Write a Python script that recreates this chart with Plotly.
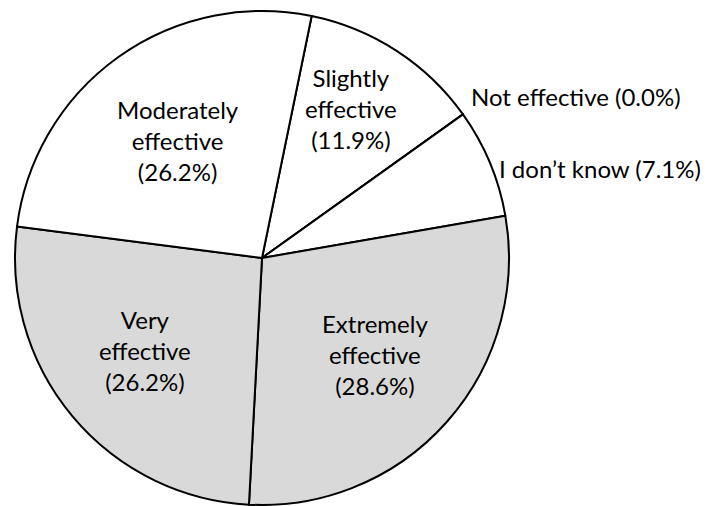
import plotly.graph_objects as go

# Survey responses: perceived effectiveness
categories = ["Slightly effective", "Not effective", "I don\u2019t know",
              "Extremely effective", "Very effective", "Moderately effective"]
counts = [5, 0, 3, 12, 11, 11]
fill_colors = ["#ffffff", "#ffffff", "#ffffff", "#d9d9d9", "#d9d9d9", "#ffffff"]

W, H = 707, 506
CX, CY, R = 262, 258, 247

total = sum(counts)
pcts = [100.0 * c / total for c in counts]

fig = go.Figure(go.Pie(
    labels=categories,
    values=counts,
    sort=False,
    direction="clockwise",
    rotation=11.6,
    textinfo="none",
    hoverinfo="label+percent",
    showlegend=False,
    marker=dict(colors=fill_colors, line=dict(color="black", width=2)),
    domain=dict(x=[(CX - R) / W, (CX + R) / W],
                y=[(H - CY - R) / H, (H - CY + R) / H]),
))

# label placement (pixel coords of the text anchor) and wrapping per slice
label_layout = {
    "Slightly effective":   (351, 109, "center", True),
    "Not effective":        (469, 96, "left", False),
    "I don\u2019t know":    (497, 168, "left", False),
    "Extremely effective":  (375, 354, "center", True),
    "Very effective":       (145, 350, "center", True),
    "Moderately effective": (178, 141, "center", True),
}

for name, p in zip(categories, pcts):
    px, py, anchor, wrap = label_layout[name]
    if wrap:
        words = name.split(" ")
        text = "<br>".join(words) + f"<br>({p:.1f}%)"
    else:
        text = f"{name} ({p:.1f}%)"
    fig.add_annotation(
        x=px / W, y=1 - py / H, xref="paper", yref="paper",
        text=text, showarrow=False, xanchor=anchor, yanchor="middle",
        align="center", font=dict(family="Lato", size=24, color="black"),
    )

fig.update_layout(
    width=W, height=H,
    margin=dict(l=0, r=0, t=0, b=0),
    paper_bgcolor="white", plot_bgcolor="white",
)

fig.write_html("out.html")
